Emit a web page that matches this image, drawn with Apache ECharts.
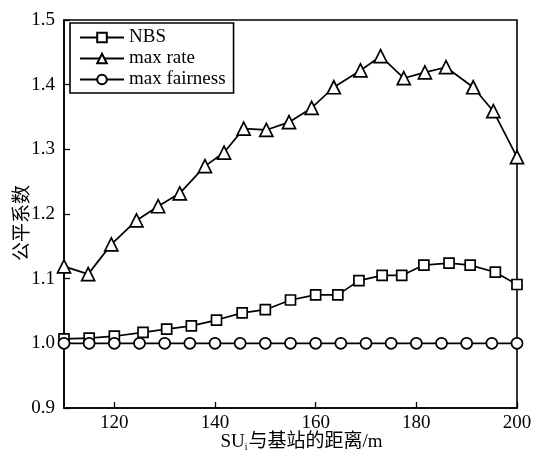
<!DOCTYPE html>
<html>
<head>
<meta charset="utf-8">
<script src="https://cdn.jsdelivr.net/npm/echarts@6/dist/echarts.min.js"></script>
<style>html,body{margin:0;padding:0;background:#fff;}#c{width:533px;height:453px;}</style>
</head>
<body>
<div id="c"></div>
<script>
var nbsX = [110, 115, 120, 125.7, 130.4, 135.3, 140.3, 145.4, 150, 155, 160, 164.4, 168.6, 173.2, 177.1, 181.5, 186.5, 190.7, 195.7, 200];
var nbsY = [1.007, 1.008, 1.011, 1.017, 1.022, 1.027, 1.036, 1.047, 1.052, 1.067, 1.075, 1.075, 1.097, 1.105, 1.105, 1.121, 1.124, 1.121, 1.110, 1.091];
var rateX = [110, 114.8, 119.4, 124.4, 128.7, 133, 138, 141.8, 145.7, 150.2, 154.7, 159.2, 163.6, 168.9, 172.9, 177.5, 181.7, 185.9, 191.3, 195.3, 200];
var rateY = [1.119, 1.107, 1.153, 1.19, 1.212, 1.232, 1.274, 1.295, 1.332, 1.330, 1.342, 1.364, 1.396, 1.422, 1.444, 1.410, 1.419, 1.427, 1.396, 1.359, 1.288];
var fairX = [110, 115, 120, 125, 130, 135, 140, 145, 150, 155, 160, 165, 170, 175, 180, 185, 190, 195, 200];
var fairY = [1.0, 1.0, 1.0, 1.0, 1.0, 1.0, 1.0, 1.0, 1.0, 1.0, 1.0, 1.0, 1.0, 1.0, 1.0, 1.0, 1.0, 1.0, 1.0];
var xTicks = [120, 140, 160, 180, 200];
var seriesNames = ['NBS', 'max rate', 'max fairness'];

function pairs(xs, ys) { return xs.map(function (x, i) { return [x, ys[i]]; }); }

var FONT = '"Liberation Serif", "Times New Roman", "Noto Sans CJK SC", serif';
var chart = echarts.init(document.getElementById('c'), null, { renderer: 'canvas' });

function mk(name, data, symbol, size) {
  return {
    name: name, type: 'line', data: data, symbol: symbol, symbolSize: size,
    showAllSymbol: true, animation: false,
    lineStyle: { color: '#000', width: 1.7 },
    itemStyle: { color: '#fff', borderColor: '#000', borderWidth: 1.7 }
  };
}

chart.setOption({
  backgroundColor: '#fff',
  animation: false,
  grid: { left: 64, right: 16, top: 20, bottom: 45, outerBoundsMode: 'none', containLabel: false, show: true, borderColor: '#000', borderWidth: 1.6, backgroundColor: 'transparent' },
  legend: {
    orient: 'vertical', left: 70, top: 23,
    data: seriesNames,
    itemWidth: 44, itemHeight: 12, itemGap: 2,
    padding: [5, 8, 4, 9],
    borderColor: '#000', borderWidth: 1.6, backgroundColor: '#fff',
    textStyle: { fontFamily: FONT, fontSize: 19, color: '#000' }
  },
  xAxis: {
    type: 'value', min: 110, max: 200,
    name: '{a|SU}{b|i}{a|与基站的距离/m}',
    nameLocation: 'middle', nameGap: 25, nameMoveOverlap: false,
    nameTextStyle: {
      padding: [0, 0, 0, 22],
      rich: {
        a: { fontFamily: FONT, fontSize: 19, color: '#000' },
        b: { fontFamily: FONT, fontSize: 10, color: '#000', verticalAlign: 'bottom', padding: [9, 1, 0, 0] }
      }
    },
    axisLine: { show: true, lineStyle: { color: '#000', width: 1.6 } },
    axisTick: { show: true, inside: true, length: 6, customValues: xTicks, lineStyle: { color: '#000', width: 1.3 } },
    axisLabel: { customValues: xTicks, fontFamily: FONT, fontSize: 19, color: '#000', margin: 6 },
    splitLine: { show: false }
  },
  yAxis: {
    type: 'value', min: 0.9, max: 1.5, interval: 0.1,
    name: '公平系数', nameLocation: 'middle', nameGap: 31, nameRotate: 90, nameMoveOverlap: false,
    nameTextStyle: { fontFamily: FONT, fontSize: 19, color: '#000', padding: [0, 18, 0, 0] },
    axisLine: { show: true, lineStyle: { color: '#000', width: 1.6 } },
    axisTick: { show: true, inside: true, length: 6, lineStyle: { color: '#000', width: 1.3 } },
    axisLabel: { fontFamily: FONT, fontSize: 19, color: '#000', margin: 9, formatter: function (v) { return v.toFixed(1); } },
    splitLine: { show: false }
  },
  series: [
    mk(seriesNames[0], pairs(nbsX, nbsY), 'rect', 10),
    mk(seriesNames[1], pairs(rateX, rateY), 'triangle', 13),
    mk(seriesNames[2], pairs(fairX, fairY), 'circle', 11)
  ]
});
</script>
</body>
</html>
